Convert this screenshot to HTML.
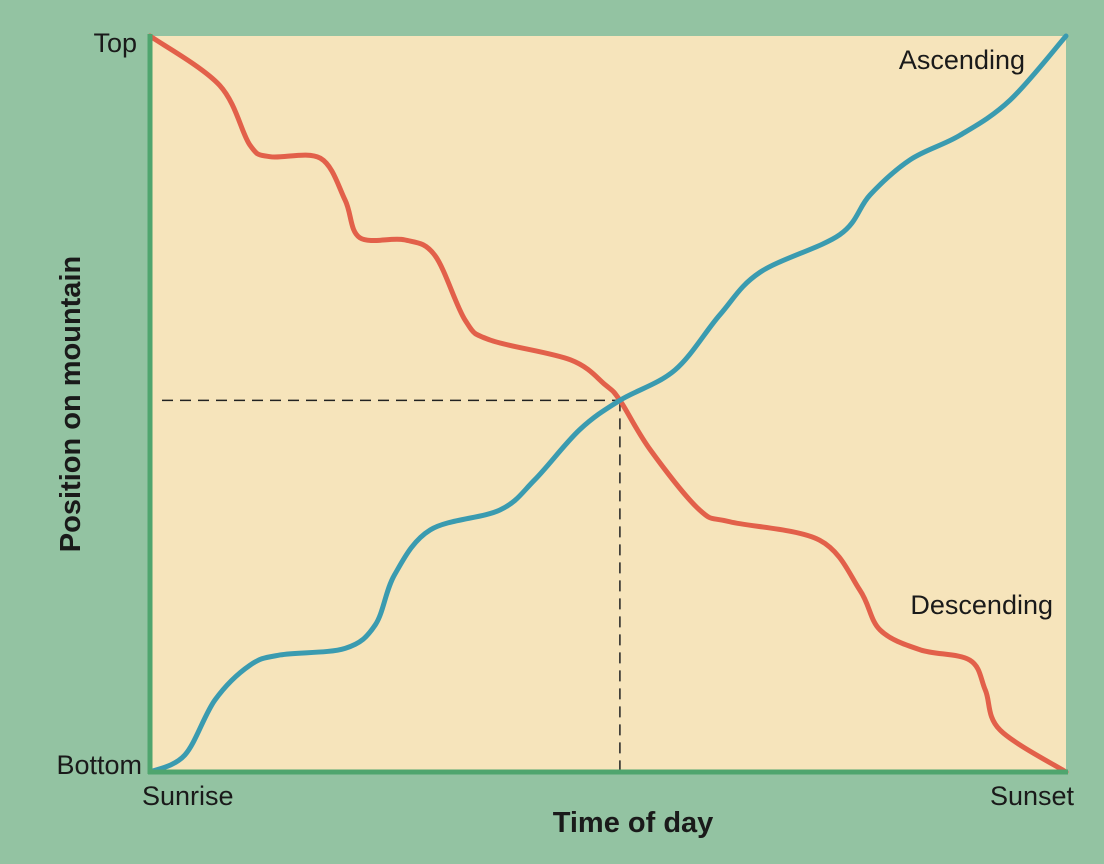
<!DOCTYPE html>
<html><head><meta charset="utf-8"><style>
html,body{margin:0;padding:0;background:#93c3a2;}
svg{display:block;font-family:"Liberation Sans",sans-serif;}
</style></head><body>
<svg id="chart" width="1104" height="864">
<rect x="0" y="0" width="1104" height="864" fill="#93c3a2"/>
<rect x="150" y="36" width="916" height="736" fill="#f6e4bb"/>
<g id="marks"></g>
<line x1="150" y1="34" x2="150" y2="774" stroke="#4fa56e" stroke-width="5"/>
<line x1="148" y1="772" x2="1068" y2="772" stroke="#4fa56e" stroke-width="5"/>
<text x="137" y="52" font-size="27" text-anchor="end" fill="#1a1a1a">Top</text>
<text x="142" y="774" font-size="27" text-anchor="end" fill="#1a1a1a">Bottom</text>
<text x="142" y="805" font-size="27" fill="#1a1a1a">Sunrise</text>
<text x="1074" y="805" font-size="27" text-anchor="end" fill="#1a1a1a">Sunset</text>
<text x="633" y="832" font-size="29" font-weight="bold" text-anchor="middle" fill="#1a1a1a">Time of day</text>
<text transform="translate(80,404) rotate(-90)" font-size="29" font-weight="bold" text-anchor="middle" fill="#1a1a1a">Position on mountain</text>
<text x="1025" y="69" font-size="27" text-anchor="end" fill="#1a1a1a">Ascending</text>
<text x="1053" y="614" font-size="27" text-anchor="end" fill="#1a1a1a">Descending</text>
</svg>
<script>
const descTime=[0,7.6,10.9,13.1,18.6,21.3,22.9,27.8,31.1,34.4,37.1,45.9,49.7,51.3,54.6,60.0,63.3,73.1,77.5,79.7,84.1,89.5,91.2,92.8,100];
const descPos=[100,93.3,85.2,83.6,83.4,77.7,72.6,72.3,70.2,61.4,58.7,56.0,52.6,50.5,43.8,35.6,34.0,31.5,24.7,19.3,16.6,15.2,11.1,5.7,0];
const ascTime=[0,3.8,7.1,10.9,14.2,21.3,24.6,26.7,30.6,38.2,42.0,46.9,51.3,57.3,62.2,66.6,75.3,78.6,83.0,88.4,93.9,100];
const ascPos=[0,2.3,9.8,14.5,15.9,16.8,20.0,26.8,32.9,35.6,39.7,46.5,50.5,54.6,62.1,67.9,73.0,78.4,83.2,86.5,91.3,100];
const crossTime=51.3, crossPos=50.5;
const X=t=>150+t/100*916, Y=p=>772-p/100*736;
function pathFor(ts,ps){
  const pts=ts.map((t,i)=>[X(t),Y(ps[i])]);
  let d=`M${pts[0][0]},${pts[0][1]}`;
  for(let i=0;i<pts.length-1;i++){
    const p0=pts[Math.max(0,i-1)],p1=pts[i],p2=pts[i+1],p3=pts[Math.min(pts.length-1,i+2)];
    const c1=[p1[0]+(p2[0]-p0[0])/6,p1[1]+(p2[1]-p0[1])/6];
    const c2=[p2[0]-(p3[0]-p1[0])/6,p2[1]-(p3[1]-p1[1])/6];
    d+=` C${c1[0]},${c1[1]} ${c2[0]},${c2[1]} ${p2[0]},${p2[1]}`;
  }
  return d;
}
const NS='http://www.w3.org/2000/svg', g=document.getElementById('marks');
const h=document.createElementNS(NS,'line');
h.setAttribute('x1',162);h.setAttribute('x2',X(crossTime));h.setAttribute('y1',Y(crossPos));h.setAttribute('y2',Y(crossPos));
h.setAttribute('stroke','#222');h.setAttribute('stroke-width','1.5');h.setAttribute('stroke-dasharray','11,7');


g.appendChild(h);
const v=document.createElementNS(NS,'line');
v.setAttribute('x1',X(crossTime));v.setAttribute('x2',X(crossTime));v.setAttribute('y1',Y(crossPos));v.setAttribute('y2',770);
v.setAttribute('stroke','#222');v.setAttribute('stroke-width','1.5');v.setAttribute('stroke-dasharray','11,7');


g.appendChild(v);
const dp=document.createElementNS(NS,'path');
dp.setAttribute('d',pathFor(descTime,descPos));dp.setAttribute('fill','none');dp.setAttribute('stroke','#e2604a');dp.setAttribute('stroke-width','5');dp.setAttribute('stroke-linecap','round');


g.appendChild(dp);
const ap=document.createElementNS(NS,'path');
ap.setAttribute('d',pathFor(ascTime,ascPos));ap.setAttribute('fill','none');ap.setAttribute('stroke','#3a9bb0');ap.setAttribute('stroke-width','5');ap.setAttribute('stroke-linecap','round');


g.appendChild(ap);
</script>
</body></html>
